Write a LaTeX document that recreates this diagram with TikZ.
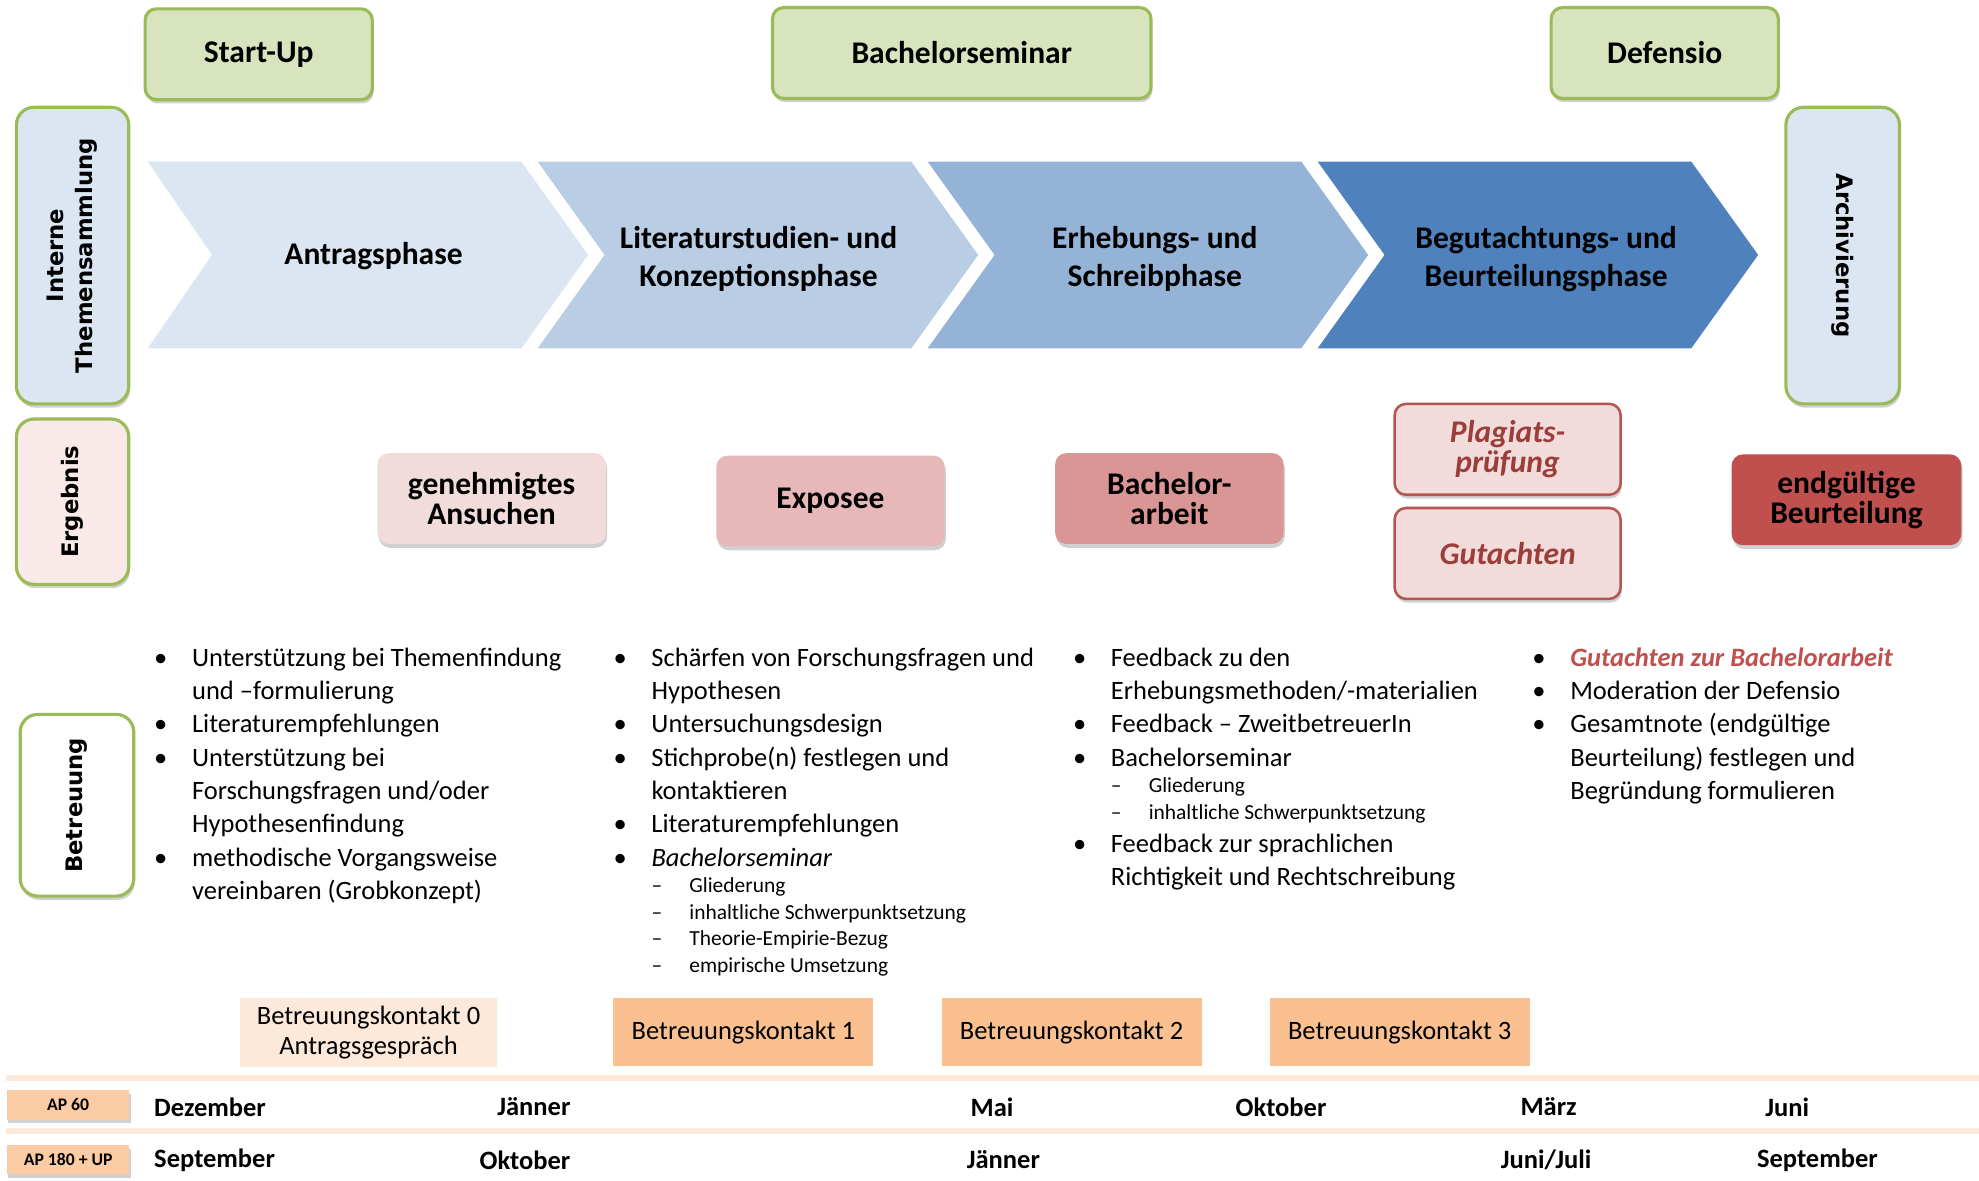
\documentclass[tikz,border=0pt]{standalone}
\usepackage{fontspec}
\setmainfont{Carlito}
\newfontfamily\vfont{DejaVu Sans}
\usetikzlibrary{shadows}
\definecolor{gfill}{HTML}{D7E4BD}
\definecolor{gline}{HTML}{9BBB59}
\definecolor{lblue}{HTML}{DCE6F2}
\definecolor{cA}{HTML}{DCE6F2}
\definecolor{cB}{HTML}{B9CDE5}
\definecolor{cC}{HTML}{95B3D7}
\definecolor{cD}{HTML}{4F81BD}
\definecolor{rA}{HTML}{F2DCDB}
\definecolor{rB}{HTML}{E6B9B8}
\definecolor{rC}{HTML}{D99694}
\definecolor{rD}{HTML}{C0504D}
\definecolor{rline}{HTML}{B65450}
\definecolor{rtext}{HTML}{9C3D3A}
\definecolor{ergfill}{HTML}{F9E9E8}
\definecolor{peach}{HTML}{FDE9D9}
\definecolor{korange}{HTML}{FAC090}
\definecolor{apfill}{HTML}{FBCBA4}
\newcommand\bi[1]{\par\spaceskip=0pt\xspaceskip=0pt\hangindent=30pt\hangafter=1\noindent\makebox[30pt][l]{•}#1}
\newcommand\si[1]{\par{\fontsize{17}{21}\selectfont\spaceskip=0pt\xspaceskip=0pt\hangindent=60pt\hangafter=1\noindent\hspace*{30pt}\makebox[30pt][l]{–}#1\par}}
\begin{document}
\begin{tikzpicture}[x=1pt,y=-1pt,
  shad/.style={drop shadow={shadow xshift=1pt,shadow yshift=-3pt,opacity=0.3,fill=black!60}},
  topbox/.style={shad, draw=gline, line width=2.5pt, fill=gfill, rounded corners=9pt, inner sep=0pt, minimum height=72, font=\fontsize{25}{30}\selectfont\bfseries},
  sidebox/.style={shad, draw=gline, line width=2.5pt, rounded corners=14pt, inner sep=0pt, font=\vfont\bfseries\fontsize{18}{23}\selectfont},
  resbox/.style={shad, rounded corners=9pt, inner sep=0pt, minimum width=181, minimum height=72, align=center, font=\fontsize{25}{24}\selectfont\bfseries},
  plbox/.style={resbox, draw=rline, line width=2pt, fill=rA, minimum width=179, text=rtext, font=\fontsize{25}{24}\selectfont\bfseries\itshape},
  chevtext/.style={align=center, inner sep=0pt, font=\fontsize{25}{30}\selectfont\bfseries},
  col/.style={anchor=base west, inner sep=0pt, text width=420, align=left, font=\fontsize{21}{26.4}\selectfont},
  kbox/.style={inner sep=0pt, minimum width=206, minimum height=54, align=center, font=\fontsize{21}{24}\selectfont},
  apbox/.style={shad, fill=apfill, inner sep=0pt, minimum width=97, minimum height=23, font=\fontsize{14}{16}\selectfont\bfseries},
  month/.style={inner sep=0pt, font=\fontsize{21}{24}\selectfont\bfseries}
]
\useasboundingbox (0,0) rectangle (1568,935.7);
\fill[white] (0,0) rectangle (1568,935.7);

% top boxes
\node[topbox, minimum width=180] (startup) at (205,43) {Start-Up};
\node[topbox, minimum width=300] (bsem) at (762,42) {Bachelorseminar};
\node[topbox, minimum width=180] (defensio) at (1319,42) {Defensio};

% side boxes
\node[sidebox, fill=lblue, minimum width=89, minimum height=235] (interne) at (57.5,202.5)
  {\rotatebox{90}{\begin{tabular}{@{}c@{}}Interne\\Themensammlung\end{tabular}}};
\node[sidebox, fill=ergfill, minimum width=89, minimum height=131] (ergebnis) at (57.5,397.5)
  {\rotatebox{90}{Ergebnis}};
\node[sidebox, fill=white, minimum width=90, minimum height=144] (betreuung) at (61,638)
  {\rotatebox{90}{Betreuung}};
\node[sidebox, fill=lblue, minimum width=90, minimum height=235] (archiv) at (1460,202.5)
  {\rotatebox{-90}{Archivierung}};

% chevrons
\fill[cA] (117,128) -- (413,128) -- (466,202) -- (413,276) -- (117,276) -- (168,202) -- cycle;
\fill[cB] (426,128) -- (722,128) -- (775,202) -- (722,276) -- (426,276) -- (479,202) -- cycle;
\fill[cC] (735,128) -- (1031,128) -- (1084,202) -- (1031,276) -- (735,276) -- (788,202) -- cycle;
\fill[cD] (1044,128) -- (1340,128) -- (1393,202) -- (1340,276) -- (1044,276) -- (1097,202) -- cycle;
\node[chevtext] (ph1) at (296,203) {Antragsphase};
\node[chevtext] (ph2) at (601,205) {Literaturstudien- und\\Konzeptionsphase};
\node[chevtext] (ph3) at (915,205) {Erhebungs- und\\Schreibphase};
\node[chevtext] (ph4) at (1225,205) {Begutachtungs- und\\Beurteilungsphase};

% results
\node[resbox, fill=rA] (ansuchen) at (389.5,395) {genehmigtes\\Ansuchen};
\node[resbox, fill=rB] (exposee) at (658,397) {Exposee};
\node[resbox, fill=rC] (barbeit) at (926.5,395) {Bachelor-\\arbeit};
\node[plbox] (plagiat) at (1194.5,356) {Plagiats-\\prüfung};
\node[plbox] (gutachten) at (1194.5,438.5) {Gutachten};
\node[resbox, fill=rD, minimum width=182] (endg) at (1463,396) {endgültige\\Beurteilung};

% Betreuung columns
\node[col] (col1) at (122,501.5) {%
\bi{Unterstützung bei Themenfindung\newline und –formulierung}
\bi{Literaturempfehlungen}
\bi{Unterstützung bei\newline Forschungsfragen und/oder\newline Hypothesenfindung}
\bi{methodische Vorgangsweise\newline vereinbaren (Grobkonzept)}\par};
\node[col] (col2) at (486,501.5) {%
\bi{Schärfen von Forschungsfragen und\newline Hypothesen}
\bi{Untersuchungsdesign}
\bi{Stichprobe(n) festlegen und\newline kontaktieren}
\bi{Literaturempfehlungen}
\bi{{\itshape Bachelorseminar}}
\si{Gliederung}
\si{inhaltliche Schwerpunktsetzung}
\si{Theorie-Empirie-Bezug}
\si{empirische Umsetzung}};
\node[col] (col3) at (850,501.5) {%
\bi{Feedback zu den\newline Erhebungsmethoden/-materialien}
\bi{Feedback – ZweitbetreuerIn}
\bi{Bachelorseminar}
\si{Gliederung}
\si{inhaltliche Schwerpunktsetzung}
\bi{Feedback zur sprachlichen\newline Richtigkeit und Rechtschreibung}\par};
\node[col] (col4) at (1214,501.5) {%
\bi{{\color{rD}\bfseries\itshape Gutachten zur Bachelorarbeit}}
\bi{Moderation der Defensio}
\bi{Gesamtnote (endgültige\newline Beurteilung) festlegen und\newline Begründung formulieren}\par};

% Betreuungskontakte
\node[kbox, fill=peach, minimum width=204, minimum height=55] (bk0) at (292,818) {Betreuungskontakt 0\\Antragsgespräch};
\node[kbox, fill=korange] (bk1) at (589,818) {Betreuungskontakt 1};
\node[kbox, fill=korange] (bk2) at (849,818) {Betreuungskontakt 2};
\node[kbox, fill=korange] (bk3) at (1109,818) {Betreuungskontakt 3};

% timeline
\draw[peach, line width=4.5pt] (5,854) -- (1568,854);
\draw[peach, line width=4.5pt] (5,896) -- (1568,896);
\node[apbox] (ap60) at (54,875.5) {AP 60};
\node[apbox] (ap180) at (54,919) {AP 180 + UP};
\node[month, anchor=west] (dez) at (122,877) {Dezember};
\node[month] (jan1) at (423,877) {Jänner};
\node[month] (mai) at (786,877) {Mai};
\node[month] (okt1) at (1015,877) {Oktober};
\node[month] (maerz) at (1227,877) {März};
\node[month] (juni) at (1416,877) {Juni};
\node[month, anchor=west] (sep1) at (122,919) {September};
\node[month] (okt2) at (416,919) {Oktober};
\node[month] (jan2) at (795,919) {Jänner};
\node[month] (junijuli) at (1225,919) {Juni/Juli};
\node[month] (sep2) at (1440,919) {September};
\end{tikzpicture}
\end{document}
